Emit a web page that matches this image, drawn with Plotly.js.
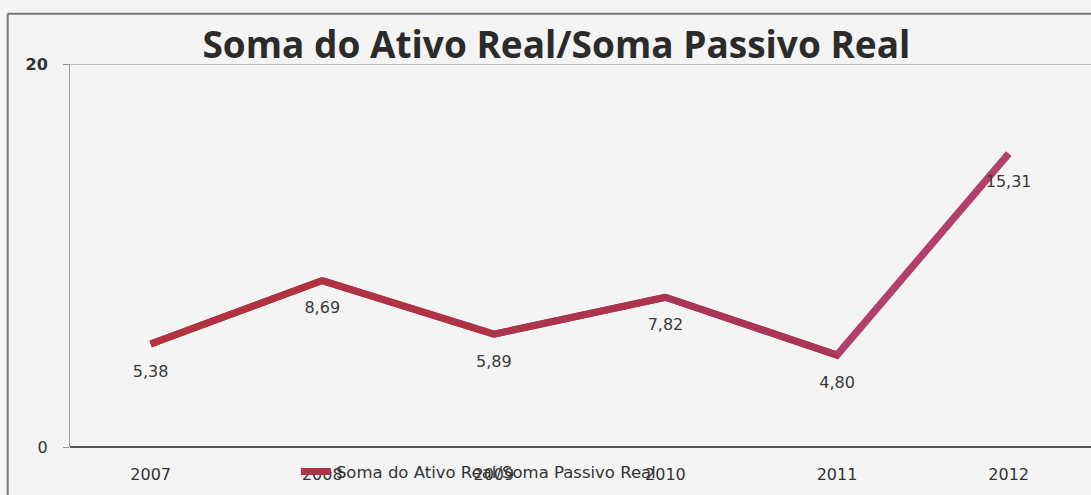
<!DOCTYPE html>
<html lang="pt-BR">
<head>
    <meta charset="UTF-8">
    <title>Soma do Ativo Real/Soma Passivo Real</title>
    <script src="https://cdn.plot.ly/plotly-3.0.1.min.js"></script>
    <style>
        body { margin: 0; background: #f3f4f3; }
        #chart { width: 1091px; height: 495px; }
    </style>
</head>
<body>
    <div id="chart"></div>
    <script>
        // dados
        const anos = ['2007', '2008', '2009', '2010', '2011', '2012'];
        const valores = [5.38, 8.69, 5.89, 7.82, 4.80, 15.31];
        const rotulos = ['5,38', '8,69', '5,89', '7,82', '4,80', '15,31'];
        const nomeSerie = 'Soma do Ativo Real/Soma Passivo Real';

        // cor de cada segmento (vermelho -> magenta)
        const coresSegmento = ['#b2323f', '#b03344', '#ad344c', '#a93557', '#b23f6c'];

        const fonte = 'DejaVu Sans, Verdana, sans-serif';

        const traces = [{
            x: anos,
            y: valores,
            name: nomeSerie,
            type: 'scatter',
            mode: 'lines',
            line: { color: '#b03547', width: 7 },
            hoverinfo: 'x+y'
        }];

        // segmentos com cor própria por cima da linha principal
        for (let i = 0; i < anos.length - 1; i++) {
            traces.push({
                x: anos.slice(i, i + 2),
                y: valores.slice(i, i + 2),
                type: 'scatter',
                mode: 'lines',
                line: { color: coresSegmento[i], width: 7 },
                showlegend: false,
                hoverinfo: 'skip'
            });
        }

        // rótulos de dados abaixo de cada ponto (linha vazia antes para afastar)
        traces.push({
            x: anos,
            y: valores,
            type: 'scatter',
            mode: 'text',
            text: rotulos.map(t => '<br>' + t),
            textposition: 'bottom center',
            textfont: { family: fonte, size: 16, color: '#3a3a3a' },
            cliponaxis: false,
            showlegend: false,
            hoverinfo: 'skip'
        });

        const layout = {
            width: 1091,
            height: 495,
            margin: { l: 70, r: 0, t: 64, b: 48 },
            paper_bgcolor: '#f3f4f3',
            plot_bgcolor: '#f3f4f3',
            title: {
                text: '<b>Soma do Ativo Real/Soma Passivo Real</b>',
                font: { family: 'Open Sans, sans-serif', size: 37, color: '#2b2b2b' },
                x: 0.51,
                xanchor: 'center',
                y: 0.91,
                yanchor: 'middle'
            },
            xaxis: {
                type: 'category',
                range: [-0.47, 5.48],
                showgrid: false,
                zeroline: false,
                showline: false,
                ticks: '',
                ticklabelstandoff: 16,
                tickfont: { family: fonte, size: 16, color: '#333' }
            },
            yaxis: {
                range: [0, 20],
                tickvals: [0, 20],
                ticktext: ['0', '<b>20</b>'],
                showgrid: false,
                zeroline: true,
                zerolinecolor: '#555',
                zerolinewidth: 2,
                showline: true,
                linecolor: '#9a9a9a',
                linewidth: 1,
                ticks: 'outside',
                ticklen: 6,
                tickcolor: '#999',
                tickfont: { family: fonte, size: 16, color: '#333' },
                ticklabelstandoff: 12
            },
            showlegend: true,
            legend: {
                orientation: 'h',
                x: 0.40,
                xanchor: 'center',
                y: -0.065,
                yanchor: 'middle',
                bgcolor: 'rgba(0,0,0,0)',
                font: { family: fonte, size: 16.5, color: '#333' }
            },
            shapes: [
                // linha de grade no topo (20)
                { type: 'line', xref: 'paper', yref: 'y', x0: -0.006, x1: 1, y0: 20, y1: 20, line: { color: '#8a8a8a', width: 1 } },
                // moldura externa (esquerda e topo)
                { type: 'line', xref: 'paper', yref: 'paper', x0: -0.061, x1: -0.061, y0: 1.131, y1: -0.2, line: { color: '#777', width: 2 } },
                { type: 'line', xref: 'paper', yref: 'paper', x0: -0.061, x1: 1.01, y0: 1.131, y1: 1.131, line: { color: '#777', width: 2 } }
            ]
        };

        Plotly.newPlot('chart', traces, layout, { displayModeBar: false, staticPlot: true });
    </script>
</body>
</html>
